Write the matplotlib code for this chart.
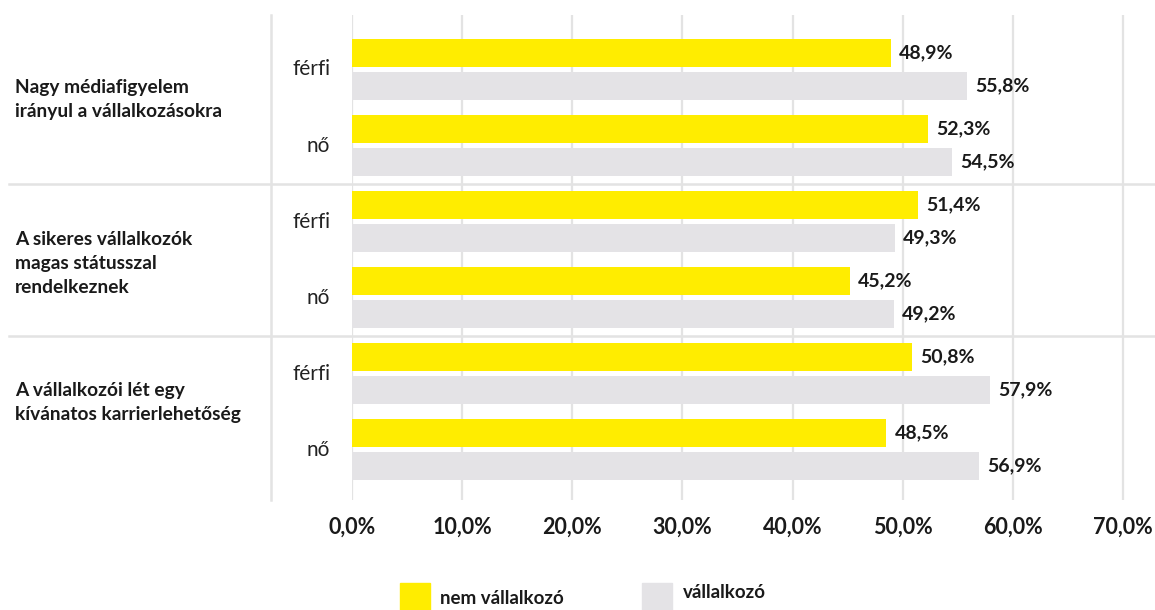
import matplotlib.pyplot as plt
from matplotlib.patches import Rectangle
import numpy as np

# data
categories = ['Nagy médiafigyelem\nirányul a vállalkozásokra',
              'A sikeres vállalkozók\nmagas státusszal\nrendelkeznek',
              'A vállalkozói lét egy\nkívánatos karrierlehetőség']
sub_labels = ['férfi', 'nő', 'férfi', 'nő', 'férfi', 'nő']
nem_vallalkozo = [48.9, 52.3, 51.4, 45.2, 50.8, 48.5]
vallalkozo = [55.8, 54.5, 49.3, 49.2, 57.9, 56.9]
series_names = ['nem vállalkozó', 'vállalkozó']
ticks = [0, 10, 20, 30, 40, 50, 60, 70]

YELLOW = '#FFED00'
GREY = '#E4E3E6'
LINE = '#E3E3E3'
FONT = 'Lato'

plt.rcParams['font.family'] = [FONT, 'DejaVu Sans']

fig = plt.figure(figsize=(11.55, 6.1), dpi=100)
ax = fig.add_axes([352 / 1155, 1 - 500 / 610, 1 - 352 / 1155, 485 / 610])

y = np.arange(len(sub_labels))
off = 0.217
h = 0.368
ax.barh(y - off, nem_vallalkozo, height=h, color=YELLOW, zorder=3)
ax.barh(y + off, vallalkozo, height=h, color=GREY, zorder=3)

for yi, v in zip(y - off, nem_vallalkozo):
    ax.text(v + 0.75, yi, f'{v:.1f}%'.replace('.', ','), va='center', ha='left',
            fontsize=14, fontweight='bold', color='#1a1a1a')
for yi, v in zip(y + off, vallalkozo):
    ax.text(v + 0.75, yi, f'{v:.1f}%'.replace('.', ','), va='center', ha='left',
            fontsize=14, fontweight='bold', color='#1a1a1a')

ax.set_xlim(0, 72.9)
ax.set_ylim(5.664, -0.717)

# gridlines
for t in ticks:
    ax.axvline(t, color=LINE, lw=1.6, zorder=1)

# group separators
for s in [1.5, 3.5]:
    ax.plot([-0.427, 1], [s, s], color=LINE, lw=1.8, transform=ax.get_yaxis_transform(),
            clip_on=False, zorder=1)
ax.plot([-0.1009, -0.1009], [0, 1], color=LINE, lw=1.8, transform=ax.transAxes, clip_on=False)

# sub labels
for yi, lab in zip(y, sub_labels):
    ax.text(-0.027, yi, lab, transform=ax.get_yaxis_transform(), ha='right', va='center',
            fontsize=15, color='#222222')

# category labels
cat_y = [0.40, 2.546, 4.375]
for cy, lab in zip(cat_y, categories):
    ax.text(-0.42, cy, lab, transform=ax.get_yaxis_transform(), ha='left', va='center',
            fontsize=13.8, fontweight='bold', color='#1a1a1a', linespacing=1.5)

ax.set_xticks(ticks)
ax.set_xticklabels([f'{t:.1f}%'.replace('.', ',') for t in ticks], fontsize=15.5,
                   fontweight='bold', color='#1a1a1a')
ax.tick_params(axis='x', length=0, pad=12)
ax.set_yticks([])
for sp in ax.spines.values():
    sp.set_visible(False)

# legend
fig.add_artist(Rectangle((400 / 1155, 1 - 612 / 610), 30 / 1155, 29 / 610,
                         transform=fig.transFigure, color=YELLOW))
fig.text(440 / 1155, 1 - 598 / 610, series_names[0], fontsize=13.5, fontweight='bold',
         va='center', ha='left', color='#1a1a1a')
fig.add_artist(Rectangle((642 / 1155, 1 - 612 / 610), 30 / 1155, 29 / 610,
                         transform=fig.transFigure, color=GREY))
fig.text(683 / 1155, 1 - 592 / 610, series_names[1], fontsize=13.5, fontweight='bold',
         va='center', ha='left', color='#1a1a1a')

fig.savefig('out.png', dpi=100)
